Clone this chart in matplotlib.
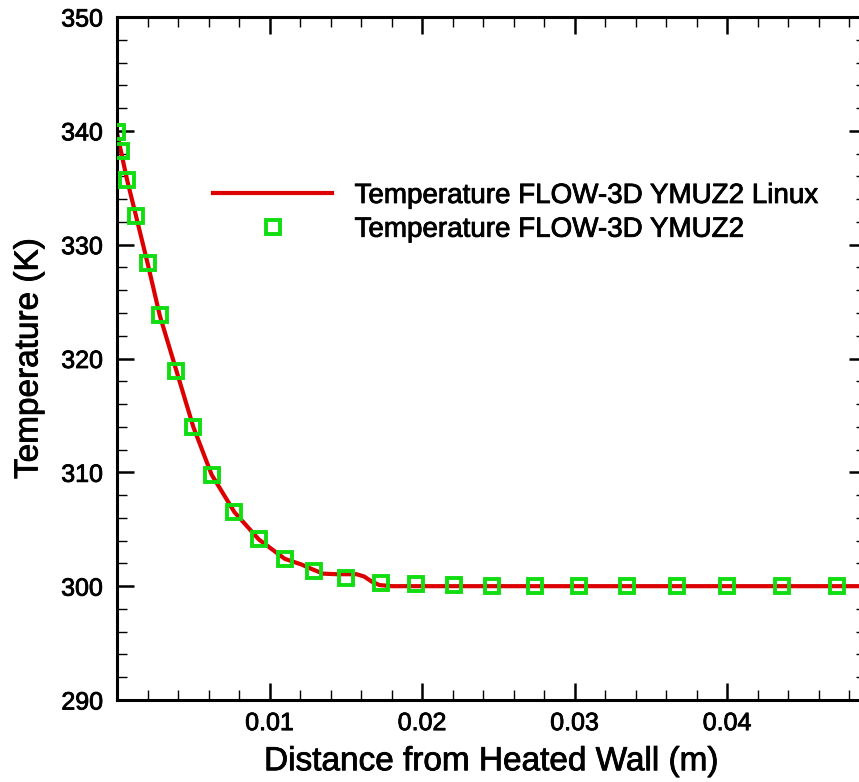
import matplotlib
matplotlib.use("Agg")
from matplotlib import pyplot as plt
from matplotlib.ticker import MultipleLocator
import matplotlib.patheffects as pe

plt.rcParams['font.family'] = ['Liberation Sans', 'DejaVu Sans']

# temperature profile, Linux build (continuous line)
x_linux = [0.0, 0.00026, 0.00066, 0.00125, 0.002, 0.0028, 0.0039, 0.005, 0.0062,
           0.0077, 0.0093, 0.011, 0.0121, 0.0126, 0.0135, 0.0144, 0.0157, 0.0162,
           0.0167, 0.0172, 0.018, 0.025, 0.035, 0.045, 0.0495]
t_linux = [339.8, 338.2, 335.7, 332.5, 328.4, 323.8, 318.9, 314.0, 309.8,
           306.5, 304.1, 302.4, 301.9, 301.6, 301.1, 301.05, 301.05, 300.85,
           300.4, 300.1, 300.0, 300.0, 300.0, 300.0, 300.0]

# temperature profile, reference build (markers)
x_ref = [0.0, 0.00026, 0.00066, 0.00125, 0.002, 0.0028, 0.0039, 0.005, 0.0062,
         0.0077, 0.0093, 0.011, 0.0129, 0.015, 0.0173, 0.0196, 0.0221, 0.0246,
         0.0274, 0.0303, 0.0334, 0.0367, 0.04, 0.0436, 0.0472]
t_ref = [339.9, 338.2, 335.7, 332.5, 328.4, 323.8, 318.9, 314.0, 309.8,
         306.5, 304.1, 302.4, 301.3, 300.7, 300.3, 300.2, 300.1, 300.05,
         300.0, 300.0, 300.0, 300.0, 300.0, 300.0, 300.0]

bold = [pe.withStroke(linewidth=0.6, foreground="black")]

fig = plt.figure(figsize=(8.59, 7.82), dpi=100)
ax = fig.add_axes([117 / 859, 82 / 782, 749 / 859, 683 / 782])

ax.plot(x_linux, t_linux, color="#dd0000", linewidth=3, label="Temperature FLOW-3D YMUZ2 Linux", zorder=2)
ax.plot(x_ref, t_ref, linestyle="none", marker="s", markersize=9.5, markerfacecolor="none",
        markeredgecolor="#11dd11", markeredgewidth=2.8, label="Temperature FLOW-3D YMUZ2", zorder=3)

ax.set_xlim(0, 0.0491)
ax.set_ylim(290, 350)
ax.set_xticks([0.01, 0.02, 0.03, 0.04])
ax.set_xticklabels(["0.01", "0.02", "0.03", "0.04"])
ax.xaxis.set_minor_locator(MultipleLocator(0.002))
ax.yaxis.set_major_locator(MultipleLocator(10))
ax.yaxis.set_minor_locator(MultipleLocator(2))

ax.tick_params(which="both", direction="in", top=True, right=True, colors="black")
ax.tick_params(which="major", length=12, width=1.8)
ax.tick_params(which="minor", length=7, width=1.0)
ax.tick_params(axis="y", which="major", labelsize=18, pad=10)
ax.tick_params(axis="x", which="major", labelsize=18, pad=8)
for s in ax.spines.values():
    s.set_linewidth(2.2)
for lbl in ax.get_xticklabels() + ax.get_yticklabels():
    lbl.set_path_effects(bold)

ax.set_xlabel("Distance from Heated Wall (m)", fontsize=24, labelpad=8, path_effects=bold)
ax.set_ylabel("Temperature (K)", fontsize=24, labelpad=12, path_effects=bold)

leg = ax.legend(loc="upper left", bbox_to_anchor=(0.128, 0.757), frameon=False, fontsize=20,
                handlelength=4.3, handletextpad=0.8, borderpad=0, borderaxespad=0,
                labelspacing=0.28, numpoints=1)
for t in leg.get_texts():
    t.set_path_effects(bold)

plt.savefig("out.png", dpi=100)
